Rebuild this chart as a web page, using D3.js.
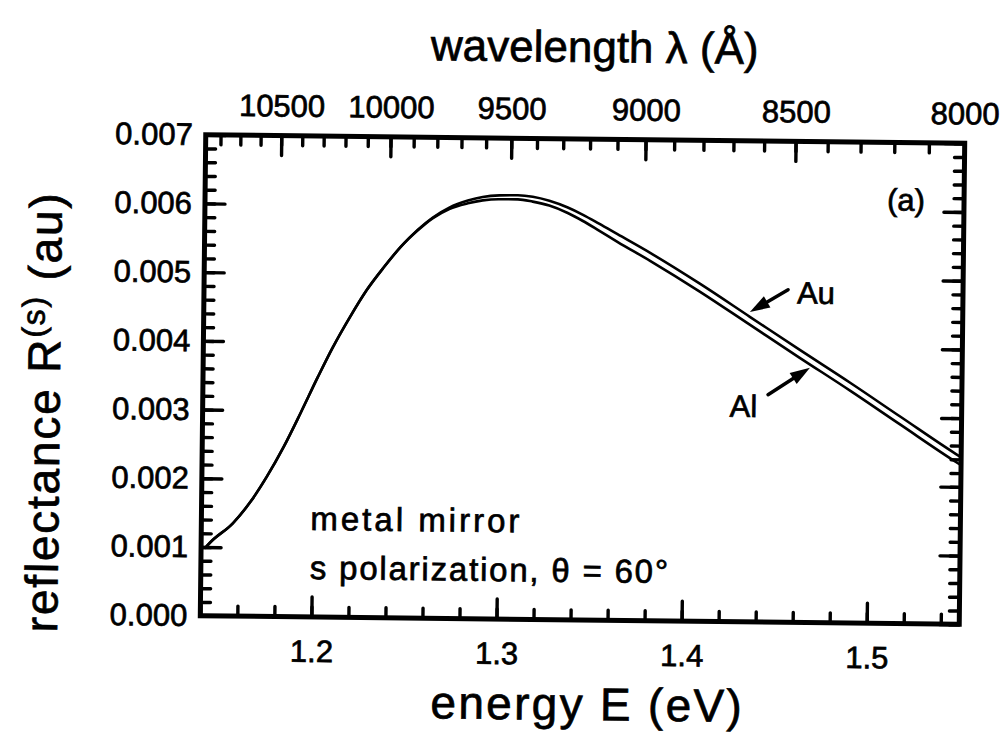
<!DOCTYPE html>
<html>
<head>
<meta charset="utf-8">
<script src="https://cdn.jsdelivr.net/npm/d3@7"></script>
<style>
  body { margin: 0; background: #fff; }
  text { font-family: "Liberation Sans", Arial, Helvetica, sans-serif; fill: #000; stroke: #000; stroke-width: 0.7px; }
</style>
</head>
<body>
<div id="chart"></div>
<script>
/* DATA */
const energy = [1.142, 1.145, 1.157, 1.166, 1.175, 1.184, 1.193, 1.202, 1.210, 1.219, 1.228, 1.237, 1.246, 1.255, 1.263, 1.272,
  1.282, 1.290, 1.299, 1.309, 1.317, 1.326, 1.336, 1.344, 1.353, 1.363, 1.381, 1.408, 1.435, 1.462, 1.490, 1.517, 1.547, 1.550];
const reflAu = [0.00098, 0.00107, 0.00135, 0.00165, 0.00203, 0.00247, 0.00297, 0.00349, 0.00393, 0.00437, 0.00477, 0.00510, 0.00540, 0.00565, 0.00583, 0.00598,
  0.006085, 0.00614, 0.006165, 0.00617, 0.00615, 0.006095, 0.00600, 0.00590, 0.00577, 0.00562, 0.00535, 0.00491, 0.00444, 0.00397, 0.00349, 0.00301, 0.00248, 0.00243];
const reflAl = [0.00098, 0.00107, 0.00135, 0.00165, 0.00203, 0.00247, 0.00297, 0.00349, 0.00393, 0.00437, 0.00477, 0.00510, 0.00540, 0.00564, 0.00582, 0.00596,
  0.006045, 0.00609, 0.00611, 0.00611, 0.00608, 0.006025, 0.00592, 0.00581, 0.00567, 0.00551, 0.005235, 0.004795, 0.004325, 0.003855, 0.003375, 0.002895, 0.002365, 0.002315];

const energyTicks = [1.2, 1.3, 1.4, 1.5];
const reflTicks = [0, 0.001, 0.002, 0.003, 0.004, 0.005, 0.006, 0.007];
const wavelengthTicks = [10500, 10000, 9500, 9000, 8500, 8000];
const hc = 12398.4; // eV * Angstrom

/* LAYOUT */
const W = 1005, H = 753;
const box = {left: 203, right: 962, top: 139, bottom: 620};
const tickFont = 31;

const svg = d3.select("#chart").append("svg")
  .attr("width", W)
  .attr("height", H);

// the scanned figure sits slightly tilted
const root = svg.append("g")
  .attr("transform", "rotate(0.65, 582.5, 379.5)");

const x = d3.scaleLinear().domain([1.14, 1.55]).range([box.left, box.right]);
const y = d3.scaleLinear().domain([0, 0.007]).range([box.bottom, box.top]);

function styleAxis(g) {
  g.select(".domain").remove();
  g.selectAll("line").attr("stroke", "#000").attr("stroke-width", 3.4).attr("stroke-linecap", "round");
  g.selectAll("text").style("font-size", tickFont + "px").attr("font-family", null);
}

// minor ticks
const minorE = d3.range(1.14, 1.551, 0.02);
const minorR = d3.range(0, 36).map(i => i * 0.0002);
const minorL = d3.range(8000, 10801, 100);

root.append("g").attr("transform", `translate(0,${box.bottom})`)
  .call(d3.axisBottom(x).tickValues(minorE).tickSize(-10).tickFormat("")).call(styleAxis);
root.append("g").attr("transform", `translate(0,${box.top})`)
  .call(d3.axisTop(x).tickValues(minorL.map(l => hc / l)).tickSize(-10).tickFormat("")).call(styleAxis);
root.append("g").attr("transform", `translate(${box.left},0)`)
  .call(d3.axisLeft(y).tickValues(minorR).tickSize(-10).tickFormat("")).call(styleAxis);
root.append("g").attr("transform", `translate(${box.right},0)`)
  .call(d3.axisRight(y).tickValues(minorR).tickSize(-10).tickFormat("")).call(styleAxis);

// major ticks + labels
root.append("g").attr("transform", `translate(0,${box.bottom})`)
  .call(d3.axisBottom(x).tickValues(energyTicks).tickSize(-20).tickPadding(23).tickFormat(d3.format(".1f")))
  .call(styleAxis);
root.append("g").attr("transform", `translate(0,${box.top})`)
  .call(d3.axisTop(x).tickValues(wavelengthTicks.map(l => hc / l)).tickSize(-20).tickPadding(19)
    .tickFormat(e => Math.round(hc / e / 10) * 10))
  .call(styleAxis);
root.append("g").attr("transform", `translate(${box.left},0)`)
  .call(d3.axisLeft(y).tickValues(reflTicks).tickSize(-20).tickPadding(13).tickFormat(d3.format(".3f")))
  .call(styleAxis);
root.append("g").attr("transform", `translate(${box.right},0)`)
  .call(d3.axisRight(y).tickValues(reflTicks).tickSize(-20).tickFormat(""))
  .call(styleAxis);

// frame
root.append("rect")
  .attr("x", box.left).attr("y", box.top)
  .attr("width", box.right - box.left).attr("height", box.bottom - box.top)
  .attr("fill", "none").attr("stroke", "#000").attr("stroke-width", 5);

// curves
const line = d3.line()
  .x(d => x(d[0]))
  .y(d => y(d[1]))
  .curve(d3.curveMonotoneX);

[reflAl, reflAu].forEach(series => {
  root.append("path")
    .datum(energy.map((e, i) => [e, series[i]]))
    .attr("d", line)
    .attr("fill", "none")
    .attr("stroke", "#000")
    .attr("stroke-width", 2.6);
});

// arrows pointing at the curves (data coords)
function arrow(from, to) {
  const x0 = x(from[0]), y0 = y(from[1]), x1 = x(to[0]), y1 = y(to[1]);
  const a = Math.atan2(y1 - y0, x1 - x0);
  const len = 20, half = 6.5;
  const bx = x1 - len * Math.cos(a), by = y1 - len * Math.sin(a);
  root.append("line")
    .attr("x1", x0).attr("y1", y0).attr("x2", bx).attr("y2", by)
    .attr("stroke", "#000").attr("stroke-width", 3.5).attr("stroke-linecap", "round");
  root.append("path")
    .attr("d", `M${x1},${y1}L${bx + half * Math.sin(a)},${by - half * Math.cos(a)}L${bx - half * Math.sin(a)},${by + half * Math.cos(a)}Z`)
    .attr("fill", "#000");
}
arrow([1.4555, 0.00484], [1.435, 0.00451]);
arrow([1.4453, 0.00331], [1.4678, 0.00371]);

root.append("text").attr("x", 796).attr("y", 301).style("font-size", "31px").text("Au");
root.append("text").attr("x", 730).attr("y", 415).style("font-size", "31px").text("Al");
root.append("text").attr("x", 885).attr("y", 207).style("font-size", "31px").text("(a)");

root.append("text").attr("x", 312).attr("y", 533)
  .style("font-size", "33px").style("letter-spacing", "3px").text("metal mirror");
root.append("text").attr("x", 312).attr("y", 582)
  .style("font-size", "33px").style("letter-spacing", "1.8px").text("s polarization, θ = 60°");

// axis titles
root.append("text")
  .attr("x", 591).attr("y", 62)
  .attr("text-anchor", "middle")
  .style("font-size", "44px")
  .text("wavelength λ (Å)");

root.append("text")
  .attr("x", 591).attr("y", 720)
  .attr("text-anchor", "middle")
  .style("font-size", "46px").style("letter-spacing", "2.3px")
  .text("energy E (eV)");

const yTitle = root.append("text")
  .attr("transform", "translate(60,418) rotate(-90)")
  .attr("text-anchor", "middle")
  .style("font-size", "46px").style("letter-spacing", "1.8px");
yTitle.append("tspan").text("reflectance R");
yTitle.append("tspan").attr("dy", -16).style("font-size", "32px").text("(s)");
yTitle.append("tspan").attr("dy", 16).text(" (au)");
</script>
</body>
</html>
